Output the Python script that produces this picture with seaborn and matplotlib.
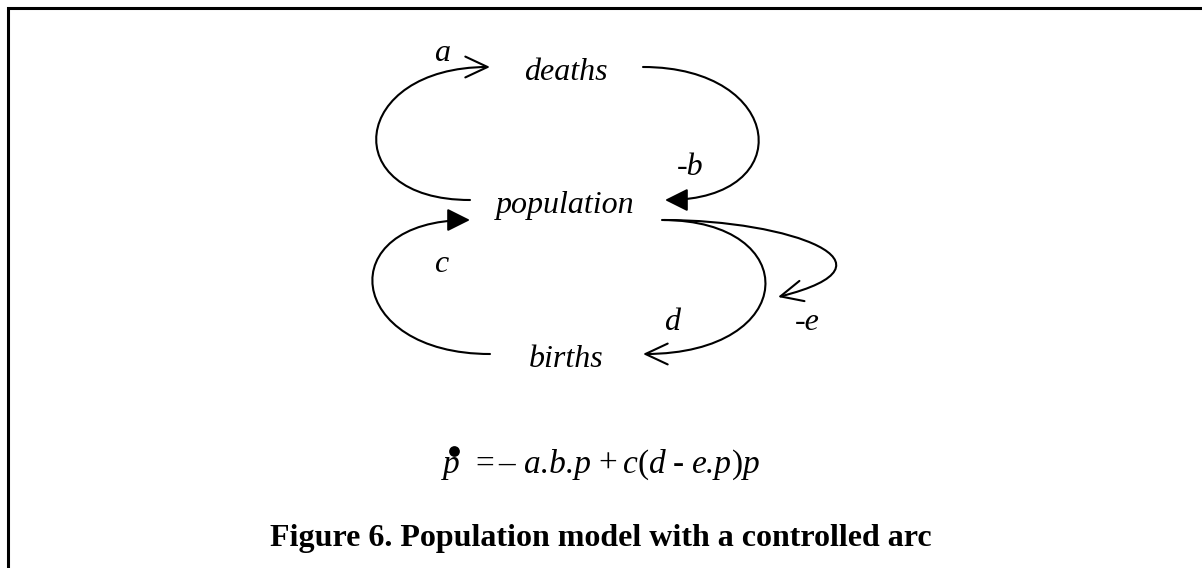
import matplotlib
matplotlib.use("Agg")
import matplotlib.pyplot as plt
from matplotlib.path import Path
from matplotlib.patches import FancyArrowPatch, ArrowStyle
import seaborn as sns

sns.set_theme(style="white")
plt.rcParams['font.family'] = ['Liberation Serif', 'DejaVu Serif']
plt.rcParams['text.color'] = 'black'

# ---- data: nodes of the causal-loop diagram (pixel layout) ----
node_names = ["deaths", "population", "births"]
node_x = [566, 565, 566]
node_y = [80, 213, 367]          # text baselines

# edge coefficient labels
label_text = ["a", "-b", "c", "d", "-e"]
label_x = [442, 690, 441, 672, 807]
label_y = [61, 175, 272, 330, 330]

# edges: start, control1, control2, end (cubic bezier), head style
edge_names = ["a", "-b", "c", "d", "-e"]
edge_p0 = [(470, 200), (643, 67), (490, 354), (662, 220), (664, 220)]
edge_c1 = [(335, 200), (785, 67), (345, 354), (805, 220), (790, 220)]
edge_c2 = [(350, 67), (800, 200), (330, 220), (800, 354), (910, 264)]
edge_p1 = [(490, 67), (665, 200), (470, 220), (643, 354), (778, 297)]
edge_head = ["open", "filled", "filled", "open", "open"]

# equation pieces: text, style, gap before (px)
eq_parts = ["p", "=", "–", "a.b.p", "+", "c", "(", "d", "-", "e.p", ")", "p"]
eq_styles = ["italic", "normal", "normal", "italic", "normal", "italic",
             "normal", "italic", "normal", "italic", "normal", "italic"]
eq_gaps = [0, 16, 4, 9, 7, 6, 0, 0, 7, 8, 0, 0]
eq_x0, eq_y = 443, 473
caption = "Figure 6. Population model with a controlled arc"
cap_x, cap_y = 601, 546

W, H = 1202, 568
fig = plt.figure(figsize=(W / 100, H / 100), dpi=100)
ax = fig.add_axes([0, 0, 1, 1])
ax.set_xlim(0, W)
ax.set_ylim(H, 0)
ax.axis("off")

# frame (top and left)
ax.plot([7.5, 7.5, W], [H, 7.5, 7.5], color="black", lw=2.2, solid_joinstyle="miter")

fs = 23
for name, x, y in zip(node_names, node_x, node_y):
    ax.text(x, y, name, fontsize=fs, style="italic", ha="center", va="baseline", color="black")
for t, x, y in zip(label_text, label_x, label_y):
    ax.text(x, y, t, fontsize=fs, style="italic", ha="center", va="baseline", color="black")

open_style = ArrowStyle("->", head_length=16, head_width=7.5)
filled_style = ArrowStyle("-|>", head_length=14, head_width=7)
codes = [Path.MOVETO, Path.CURVE4, Path.CURVE4, Path.CURVE4]
for p0, c1, c2, p1, hs in zip(edge_p0, edge_c1, edge_c2, edge_p1, edge_head):
    path = Path([p0, c1, c2, p1], codes)
    arr = FancyArrowPatch(path=path,
                          arrowstyle=open_style if hs == "open" else filled_style,
                          mutation_scale=1, lw=1.5, color="black",
                          transform=ax.transData)
    ax.add_patch(arr)

# equation laid out piece by piece, using measured widths
eq_fs = 24
renderer = fig.canvas.get_renderer()
x = eq_x0
first_p = None
for t, st, g in zip(eq_parts, eq_styles, eq_gaps):
    x += g
    txt = ax.text(x, eq_y, t, fontsize=eq_fs, style=st, ha="left", va="baseline", color="black")
    bb = txt.get_window_extent(renderer=renderer)
    if first_p is None:
        first_p = (x, bb.width)
    x += bb.width

dot_x = [first_p[0] + first_p[1] / 2 + 3]
dot_y = [451]
sns.scatterplot(x=dot_x, y=dot_y, s=60, color="black", ax=ax, legend=False, linewidth=0)
ax.set_xlim(0, W)
ax.set_ylim(H, 0)

ax.text(cap_x, cap_y, caption, fontsize=fs, fontweight="bold", ha="center", va="baseline", color="black")

fig.savefig("out.png", dpi=100)
